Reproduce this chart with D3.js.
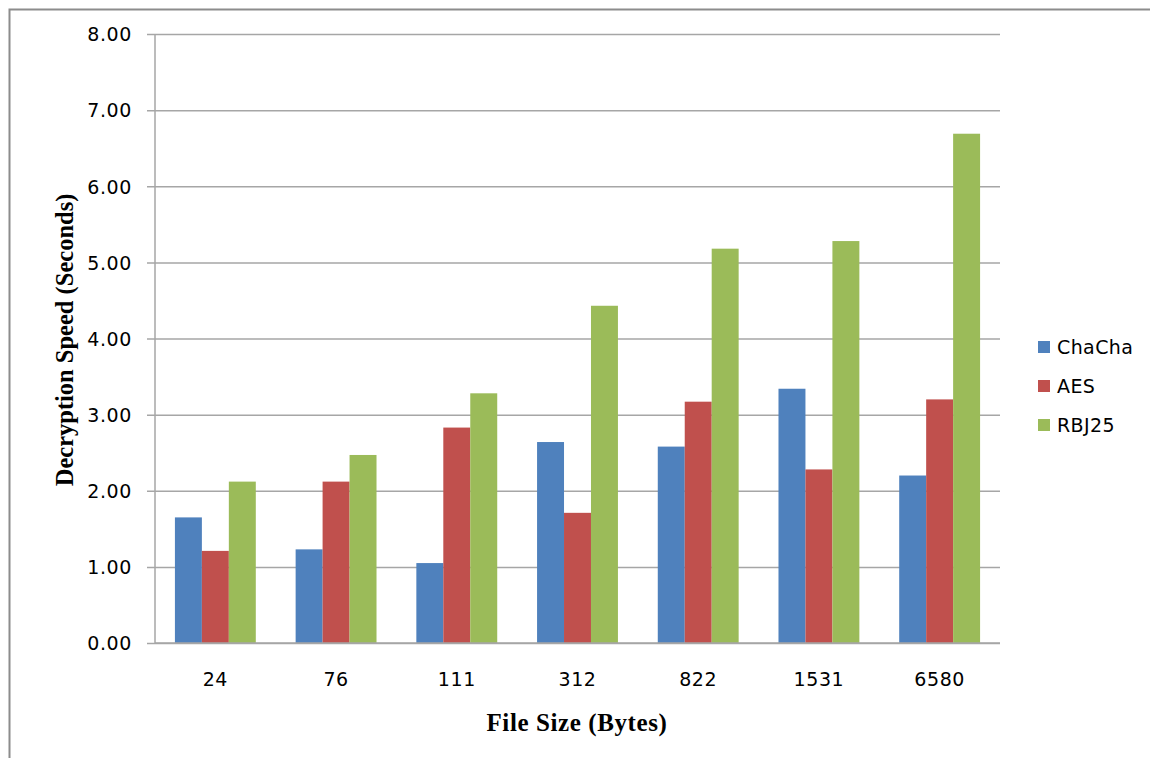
<!DOCTYPE html>
<html>
<head>
<meta charset="utf-8">
<script src="https://cdn.jsdelivr.net/npm/d3@7"></script>
<style>
  body { margin: 0; background: #fff; }
  .tick text { font-family: "DejaVu Sans", sans-serif; font-size: 19px; letter-spacing: 0.6px; fill: #000; }
</style>
</head>
<body>
<div id="chart"></div>
<script>
// file sizes (bytes) on the x axis
const fileSizes = ["24", "76", "111", "312", "822", "1531", "6580"];
const seriesNames = ["ChaCha", "AES", "RBJ25"];
// decryption speed (seconds)
const chacha = [1.65, 1.23, 1.05, 2.64, 2.58, 3.34, 2.20];
const aes = [1.21, 2.12, 2.83, 1.71, 3.17, 2.28, 3.20];
const rbj25 = [2.12, 2.47, 3.28, 4.43, 5.18, 5.28, 6.69];
const yTicks = [0, 1, 2, 3, 4, 5, 6, 7, 8];

const colors = {"ChaCha": "#4F81BD", "AES": "#C0504D", "RBJ25": "#9BBB59"};

const W = 1150, H = 758;
const dims = {top: 34, left: 155, right: 1000, bottom: 643};

const rows = fileSizes.map((f, i) => ({size: f, ChaCha: chacha[i], AES: aes[i], RBJ25: rbj25[i]}));

const svg = d3.select("#chart").append("svg")
    .attr("width", W).attr("height", H);

// outer frame, cut off at right and bottom like the screenshot
svg.append("path")
    .attr("d", "M9.5," + H + "V9.5H" + W)
    .attr("fill", "none")
    .attr("stroke", "#8c8c8c")
    .attr("stroke-width", 2);

const x = d3.scaleBand()
    .domain(fileSizes)
    .range([dims.left, dims.right])
    .paddingInner(0.33).paddingOuter(0.165);

const x1 = d3.scaleBand()
    .domain(seriesNames)
    .range([0, x.bandwidth()]);

const y = d3.scaleLinear()
    .domain([0, 8])
    .range([dims.bottom, dims.top]);

// gridlines + y axis
const yAxis = svg.append("g")
    .attr("transform", "translate(" + dims.left + ",0)")
    .call(d3.axisLeft(y).tickValues(yTicks).tickFormat(d3.format(".2f"))
        .tickSize(-(dims.right - dims.left)).tickPadding(23));
yAxis.select(".domain").remove();
yAxis.selectAll(".tick line")
    .attr("stroke", "#a6a6a6")
    .attr("stroke-width", 1.5)
    .attr("x1", -8);
yAxis.selectAll(".tick text").attr("dy", "0.36em");

svg.append("line")
    .attr("x1", dims.left).attr("x2", dims.left)
    .attr("y1", dims.top).attr("y2", dims.bottom)
    .attr("stroke", "#a6a6a6").attr("stroke-width", 1.5);

// bars
svg.append("g")
  .selectAll("g")
  .data(rows)
  .join("g")
    .attr("transform", d => "translate(" + x(d.size) + ",0)")
  .selectAll("rect")
  .data(d => seriesNames.map(k => ({key: k, value: d[k]})))
  .join("rect")
    .attr("x", d => x1(d.key))
    .attr("y", d => y(d.value))
    .attr("width", x1.bandwidth())
    .attr("height", d => y(0) - y(d.value))
    .attr("fill", d => colors[d.key]);

// x axis
const xAxis = svg.append("g")
    .attr("transform", "translate(0," + dims.bottom + ")")
    .call(d3.axisBottom(x).tickSize(0).tickPadding(43));
xAxis.select(".domain")
    .attr("stroke", "#a6a6a6").attr("stroke-width", 1.5)
    .attr("d", "M" + dims.left + ",0H" + dims.right);
xAxis.selectAll(".tick text").attr("dy", "0");

// axis titles
svg.append("text")
    .attr("x", 577)
    .attr("y", 731)
    .attr("text-anchor", "middle")
    .style("font-family", "'Liberation Serif', serif")
    .style("font-weight", "bold")
    .style("font-size", "25px")
    .style("letter-spacing", "0.6px")
    .text("File Size (Bytes)");

svg.append("text")
    .attr("transform", "translate(73,340) rotate(-90)")
    .attr("text-anchor", "middle")
    .style("font-family", "'Liberation Serif', serif")
    .style("font-weight", "bold")
    .style("font-size", "24.5px")
    .text("Decryption Speed (Seconds)");

// legend
const legend = svg.append("g")
  .selectAll("g")
  .data(seriesNames)
  .join("g")
    .attr("transform", (d, i) => "translate(1038," + (347 + i * 39) + ")");
legend.append("rect")
    .attr("x", 0).attr("y", -6)
    .attr("width", 12).attr("height", 12)
    .attr("fill", d => colors[d]);
legend.append("text")
    .attr("x", 19).attr("dy", "0.36em")
    .style("font-family", "'DejaVu Sans', sans-serif")
    .style("font-size", "19px")
    .style("letter-spacing", "0.4px")
    .text(d => d);
</script>
</body>
</html>
